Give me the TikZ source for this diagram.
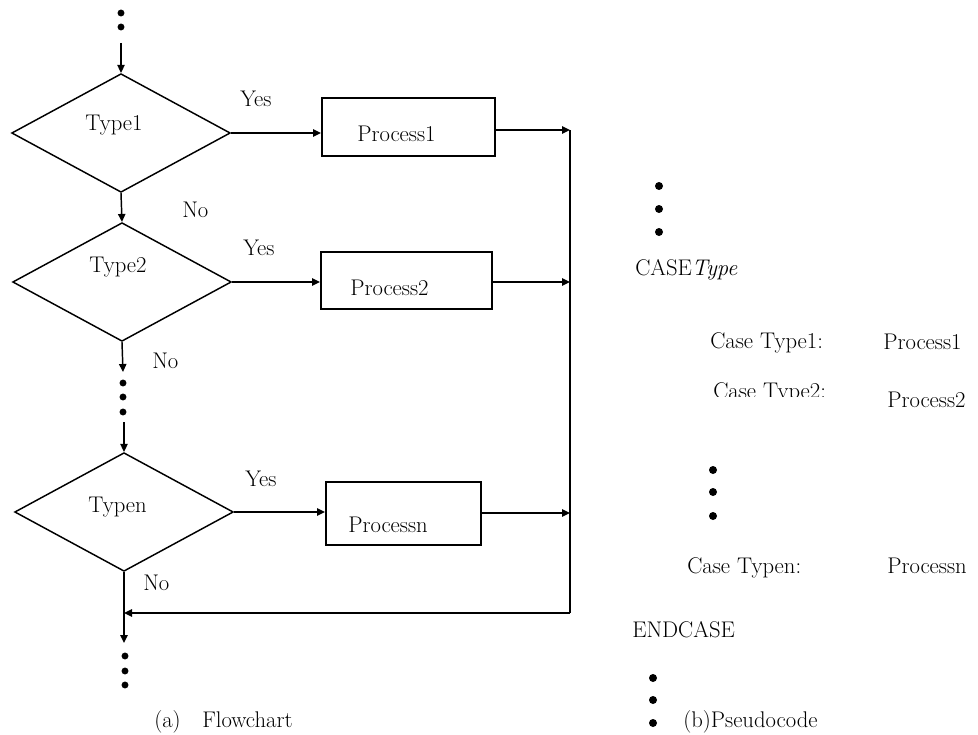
\documentclass[tikz,border=0pt]{standalone}
\usetikzlibrary{arrows.meta,shapes.geometric}
\begin{document}
\begin{tikzpicture}[x=0.75pt,y=-0.75pt,
  every node/.style={font=\fontsize{17}{20}\selectfont, inner sep=0pt},
  lbl/.style={anchor=base west},
  dia/.style={draw, diamond, line width=1.1pt, minimum width=164pt, minimum height=89pt},
  pbox/.style={draw, rectangle, line width=1.4pt},
  conn/.style={line width=1.1pt},
  arr/.style={line width=1.1pt, -{Triangle[length=6pt,width=5.5pt]}},
  dotc/.style={fill=black}
]
\useasboundingbox (0,0) rectangle (978,735);

% top dots and entry arrow
\fill[dotc] (121,13) circle[radius=2.6pt];
\fill[dotc] (121,27) circle[radius=2.6pt];
\coordinate (top) at (121,43);

% diamonds
\node[dia] (d1) at (121,133) {};
\node[dia] (d2) at (122,282) {};
\node[dia] (dn) at (124,512) {};

\node[lbl] (t1) at (85,130) {Type1};
\node[lbl] (t2) at (89,272) {Type2};
\node[lbl] (tn) at (88,512) {Typen};

% boxes
\node[pbox, minimum width=129.75pt, minimum height=43.5pt] (b1) at (408.5,127) {};
\node[pbox, minimum width=128.25pt, minimum height=42.75pt] (b2) at (406.5,280.5) {};
\node[pbox, minimum width=116.25pt, minimum height=47.25pt] (bn) at (403.5,513.5) {};

\node[lbl] (p1) at (357,141) {Process1};
\node[lbl] (p2) at (350,295) {Process2};
\node[lbl] (pn) at (348,532) {Processn};

% Yes / No labels
\node[lbl] (y1) at (240,107) {Yes};
\node[lbl] (y2) at (243,255) {Yes};
\node[lbl] (yn) at (245,486) {Yes};
\node[lbl] (n1) at (182,217) {No};
\node[lbl] (n2) at (152,368) {No};
\node[lbl] (nn) at (143,590) {No};

% junction coordinates
\coordinate (j1) at (570,130);
\coordinate (j2) at (570,282);
\coordinate (jn) at (570,513);
\coordinate (jr) at (570,613);

% connectors
\draw[arr] (top) -- (d1.north);
\draw[arr] (d1.south) -- (d2.north);
\coordinate (m1) at (123,372);
\draw[arr] (d2.south) -- (m1);
\fill[dotc] (123,383) circle[radius=2.6pt];
\fill[dotc] (123,397) circle[radius=2.6pt];
\fill[dotc] (123,412) circle[radius=2.6pt];
\coordinate (m2) at (124,422);
\draw[arr] (m2) -- (dn.north);

\draw[arr] (d1.east) -- (d1.east -| b1.west);
\draw[arr] (d2.east) -- (d2.east -| b2.west);
\draw[arr] (dn.east) -- (dn.east -| bn.west);

\draw[arr] (b1.east |- j1) -- (j1);
\draw[arr] (b2.east |- j2) -- (j2);
\draw[arr] (bn.east |- jn) -- (jn);

\draw[line width=1.8pt] (j1) -- (jr);
\draw[arr] (jr) -- (dn.south |- jr);
\coordinate (m3) at (124,643);
\draw[arr] (dn.south) -- (m3);

\fill[dotc] (125,656) circle[radius=2.6pt];
\fill[dotc] (125,671) circle[radius=2.6pt];
\fill[dotc] (125,685) circle[radius=2.6pt];

\node[lbl] (capa1) at (154,727) {(a)};
\node[lbl] (capa2) at (202,727) {Flowchart};

% pseudocode
\fill[dotc] (659,186) circle[radius=3pt];
\fill[dotc] (659,209) circle[radius=3pt];
\fill[dotc] (659,232) circle[radius=3pt];
\node[lbl] (case) at (635,275) {CASE\textit{Type}};
\node[lbl] (c1) at (710,348) {Case Type1:};
\node[lbl] (c1p) at (883,349) {Process1};
\begin{scope}
  \clip (700,370) rectangle (850,396);
  \node[lbl] (c2) at (713,398) {Case Type2:};
\end{scope}
\node[lbl] (c2p) at (887,407) {Process2};
\fill[dotc] (713,470) circle[radius=3pt];
\fill[dotc] (713,492) circle[radius=3pt];
\fill[dotc] (713,516) circle[radius=3pt];
\node[lbl] (cn) at (687,573) {Case Typen:};
\node[lbl] (cnp) at (887,573) {Processn};
\node[lbl] (endc) at (632,637) {ENDCASE};
\fill[dotc] (653,678) circle[radius=3pt];
\fill[dotc] (653,700) circle[radius=3pt];
\fill[dotc] (653,723) circle[radius=3pt];
\node[lbl] (capb) at (683,727) {(b)Pseudocode};
\end{tikzpicture}
\end{document}
